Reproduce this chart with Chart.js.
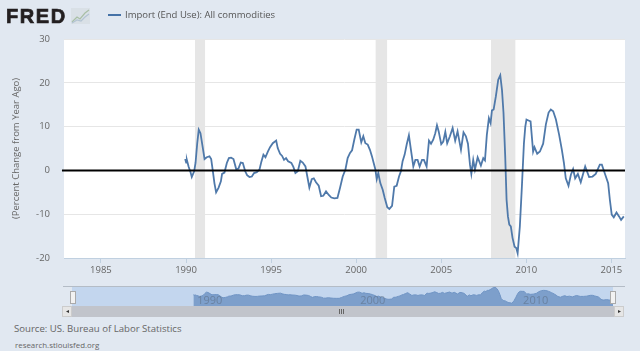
<!DOCTYPE html>
<html>
<head>
<meta charset="utf-8">
<title>Import (End Use): All commodities</title>
<script src="https://cdn.jsdelivr.net/npm/chart.js@4"></script>
<style>
  html, body { margin: 0; padding: 0; }
  body { width: 640px; height: 351px; background: #e1e8f1; position: relative; overflow: hidden; font-family: "Open Sans", sans-serif; color: #555; }
  #main { position: absolute; left: 0; top: 0; }
  #nav { position: absolute; left: 72px; top: 287px; background: #c3d6ee; }
  .abs { position: absolute; white-space: nowrap; }
  #logo { left: 6px; top: 3px; font: 900 20px/26px "Liberation Sans", sans-serif; color: #231f20; letter-spacing: 1.6px; -webkit-text-stroke: 0.7px #231f20; }
  #swatch { left: 108px; top: 14px; width: 13px; height: 2px; background: #4572a7; }
  #legend { left: 125px; top: 7px; font-size: 9.5px; line-height: 16px; color: #555; }
  #source { left: 14px; top: 321px; font-size: 9.6px; line-height: 16px; color: #666; }
  #site { left: 15px; top: 340px; font-size: 7.9px; line-height: 11px; color: #666; }
  #navtop { left: 63px; top: 286px; width: 562px; height: 1px; background: #b4bcc6; }
  #track { left: 72px; top: 306px; width: 542px; height: 11px; background: #c1c4cb; }
  .btn { width: 10px; height: 11px; top: 306px; background: #e6e6e6; border: 1px solid #ccc; box-sizing: border-box; font-size: 6px; line-height: 9px; text-align: center; color: #333; }
  .handle { width: 4px; height: 11px; top: 291px; background: #f2f2f2; border: 1px solid #aaa; }
  #grip { left: 339px; top: 309px; width: 6px; height: 5px; background: repeating-linear-gradient(90deg, #666 0 1px, transparent 1px 2px); }
</style>
</head>
<body>
<canvas id="main" width="640" height="280"></canvas>
<div class="abs" id="logo">FRED</div>
<svg class="abs" style="left:71px;top:8px" width="19" height="16">
  <rect width="19" height="16" fill="#d9e0e6"/>
  <polyline points="1,14 6,9 9,11 14,5 18,2" fill="none" stroke="#a9bfa6" stroke-width="1.2"/>
  <polyline points="1,15 6,12 10,13 14,9 18,6" fill="none" stroke="#b3c4d3" stroke-width="1.2"/>
</svg>
<div class="abs" id="swatch"></div>
<div class="abs" id="legend">Import (End Use): All commodities</div>
<div class="abs" id="navtop"></div>
<canvas id="nav" width="541" height="19"></canvas>
<div class="abs" id="track"></div>
<div class="abs btn" style="left:62px">&#9666;</div>
<div class="abs btn" style="left:614px">&#9656;</div>
<div class="abs handle" style="left:70px"></div>
<div class="abs handle" style="left:610px"></div>
<div class="abs" id="grip"></div>
<div class="abs" id="source">Source: US. Bureau of Labor Statistics</div>
<div class="abs" id="site">research.stlouisfed.org</div>

<script>
// decimal year / percent
var years = [
  1989.95,1990.01,1990.05,1990.15,1990.27,1990.34,1990.48,1990.56,1990.66,1990.75,1990.85,1990.99,
  1991.09,1991.22,1991.38,1991.48,1991.58,1991.67,1991.77,1991.91,1992.05,1992.12,1992.26,1992.40,
  1992.52,1992.65,1992.79,1992.95,1993.08,1993.22,1993.34,1993.48,1993.59,1993.73,1993.87,1994.00,
  1994.16,1994.32,1994.43,1994.55,1994.67,1994.81,1994.94,1995.10,1995.30,1995.39,1995.53,1995.65,
  1995.76,1995.88,1996.00,1996.19,1996.31,1996.43,1996.57,1996.72,1996.86,1997.02,1997.13,1997.25,
  1997.39,1997.51,1997.64,1997.80,1997.94,1998.07,1998.23,1998.39,1998.54,1998.72,1998.90,1999.05,
  1999.21,1999.37,1999.50,1999.64,1999.76,1999.89,2000.03,2000.15,2000.30,2000.42,2000.54,2000.68,
  2000.81,2000.93,2001.03,2001.13,2001.21,2001.30,2001.42,2001.56,2001.68,2001.83,2001.95,2002.11,
  2002.24,2002.38,2002.52,2002.63,2002.73,2002.85,2002.97,2003.10,2003.22,2003.36,2003.48,2003.61,
  2003.73,2003.87,2003.98,2004.14,2004.28,2004.40,2004.53,2004.65,2004.75,2004.85,2005.00,2005.12,
  2005.24,2005.35,2005.51,2005.67,2005.82,2005.96,2006.16,2006.31,2006.45,2006.57,2006.69,2006.77,
  2006.88,2006.98,2007.14,2007.33,2007.47,2007.57,2007.68,2007.80,2007.90,2007.98,2008.08,2008.21,
  2008.35,2008.47,2008.57,2008.66,2008.76,2008.84,2008.92,2009.00,2009.09,2009.19,2009.31,2009.41,
  2009.49,2009.62,2009.74,2009.86,2009.94,2010.01,2010.13,2010.25,2010.40,2010.48,2010.64,2010.80,
  2010.99,2011.15,2011.31,2011.44,2011.58,2011.74,2011.93,2012.09,2012.21,2012.32,2012.48,2012.62,
  2012.75,2012.87,2013.03,2013.20,2013.46,2013.69,2013.89,2014.08,2014.32,2014.44,2014.57,2014.81,
  2014.91,2015.02,2015.14,2015.30,2015.45,2015.57,2015.73
];
var values = [
  2.6,1.8,2.4,0.9,-0.5,-1.5,-0.2,1.7,6.2,9.3,8.5,5.1,
  2.6,3.0,3.2,2.6,-0.2,-2.9,-5.0,-4.0,-2.5,-0.8,-0.5,1.7,
  2.8,2.9,2.6,0.3,0.4,1.8,1.7,-0.2,-1.1,-1.5,-1.4,-0.6,
  -0.4,0.2,2.0,3.6,3.0,4.3,5.3,6.2,6.8,5.1,3.8,3.3,
  2.4,2.8,2.1,1.7,0.8,-0.6,-0.2,2.2,1.8,0.9,-1.4,-3.9,
  -2.0,-1.8,-2.7,-3.5,-5.9,-5.8,-4.8,-5.6,-6.2,-6.4,-6.3,-4.0,
  -1.4,0.2,2.8,4.0,4.6,7.0,9.3,9.3,6.4,7.8,6.2,5.9,
  4.7,3.2,1.7,0.2,-2.0,-0.6,-2.9,-4.4,-6.3,-8.4,-8.8,-8.1,
  -3.7,-3.5,-1.4,-0.2,2.1,3.6,5.9,8.0,4.7,0.9,2.4,2.4,
  0.9,2.4,2.4,0.9,6.8,6.1,7.0,8.5,10.3,8.9,6.0,6.6,
  8.8,6.2,7.8,9.7,6.8,8.9,4.7,8.7,7.8,6.1,1.3,-0.8,
  2.4,0.2,3.0,1.1,2.8,2.3,8.1,11.9,10.8,13.7,13.9,16.9,
  20.7,21.7,18.4,13.1,3.2,-6.7,-10.5,-12.4,-12.8,-15.4,-17.4,-17.7,
  -18.9,-12.8,-3.7,6.2,10.0,11.6,11.4,11.2,4.3,5.3,3.8,4.3,
  6.1,10.5,13.2,13.9,13.5,11.6,8.1,4.7,1.7,-1.8,-3.5,-1.0,
  0.3,-1.8,-0.8,-2.7,0.9,-1.5,-1.4,-0.8,1.3,1.3,-0.2,-2.9,
  -6.7,-10.1,-10.7,-9.6,-10.5,-11.3,-10.5
];
var recessionStart = [1990.52, 2001.13, 2007.92];
var recessionEnd = [1991.13, 2001.83, 2009.37];
var xTicks = [1985, 1990, 1995, 2000, 2005, 2010, 2015];
var yTicks = [-20, -10, 0, 10, 20, 30];
var navLabels = [1990, 2000, 2010];
var xMin = 1982.83, xMax = 2015.8;
var yMin = -20, yMax = 30;

var series = years.map(function (y, i) { return { x: y, y: values[i] }; });

var datasets = [];
for (let i = 0; i < recessionStart.length; i++) {
  datasets.push({
    data: [{ x: recessionStart[i], y: yMax }, { x: recessionEnd[i], y: yMax }],
    borderWidth: 0,
    backgroundColor: '#e6e6e6',
    fill: { value: yMin },
    pointRadius: 0,
    order: 3
  });
}
datasets.push({
  label: 'Import (End Use): All commodities',
  data: series,
  borderColor: '#4f79aa',
  borderWidth: 1.8,
  pointRadius: 0,
  tension: 0,
  fill: false,
  order: 2
});
// heavy line at zero, pokes out a little left of the plot
datasets.push({
  data: [{ x: xMin - 0.12, y: 0 }, { x: xMax, y: 0 }],
  borderColor: '#000',
  borderWidth: 2,
  pointRadius: 0,
  fill: false,
  clip: false,
  order: 1
});

new Chart(document.getElementById('main'), {
  type: 'line',
  data: { datasets: datasets },
  options: {
    responsive: false,
    animation: false,
    layout: { padding: { top: 39, right: 15, left: 0, bottom: 0 } },
    plugins: {
      legend: { display: false },
      tooltip: { enabled: false }
    },
    scales: {
      x: {
        type: 'linear',
        min: xMin,
        max: xMax,
        afterBuildTicks: function (axis) { axis.ticks = xTicks.map(function (v) { return { value: v }; }); },
        afterFit: function (axis) { axis.height = 22; },
        grid: { drawOnChartArea: false, color: '#c0d0e0', tickLength: 5 },
        border: { color: '#c0d0e0' },
        ticks: {
          maxRotation: 0,
          padding: 2,
          color: '#666',
          font: { family: 'Open Sans', size: 9.5 },
          callback: function (v) { return String(v); }
        }
      },
      y: {
        min: yMin,
        max: yMax,
        afterBuildTicks: function (axis) { axis.ticks = yTicks.map(function (v) { return { value: v }; }); },
        afterFit: function (axis) { axis.width = 64; },
        grid: { color: '#e6e6e6', drawTicks: false },
        border: { display: false },
        title: {
          display: true,
          text: '(Percent Change from Year Ago)',
          color: '#666',
          font: { family: 'Open Sans', size: 9.5 },
          padding: { top: 11, bottom: 0 }
        },
        ticks: {
          padding: 14,
          color: '#666',
          font: { family: 'Open Sans', size: 9.5 }
        }
      }
    }
  },
  plugins: [{
    id: 'plotBg',
    beforeDraw: function (chart) {
      var a = chart.chartArea;
      chart.ctx.save();
      chart.ctx.fillStyle = '#fff';
      chart.ctx.fillRect(a.left, a.top, a.right - a.left, a.bottom - a.top);
      chart.ctx.restore();
    }
  }]
});

// navigator strip under the main chart
new Chart(document.getElementById('nav'), {
  type: 'line',
  data: {
    datasets: [{
      data: series,
      borderColor: '#6f94c4',
      borderWidth: 1,
      backgroundColor: '#7d9fcb',
      fill: 'start',
      pointRadius: 0,
      tension: 0
    }]
  },
  options: {
    responsive: false,
    animation: false,
    plugins: { legend: { display: false }, tooltip: { enabled: false } },
    scales: {
      x: { type: 'linear', display: false, min: 1982.5, max: 2015.7 },
      y: { display: false, min: -25.8, max: 22.4 }
    }
  },
  plugins: [{
    id: 'navLabels',
    afterDatasetsDraw: function (chart) {
      var ctx = chart.ctx;
      ctx.save();
      ctx.fillStyle = 'rgba(90,105,125,0.55)';
      ctx.font = '11px "Open Sans"';
      ctx.textBaseline = 'bottom';
      navLabels.forEach(function (v) {
        ctx.fillText(String(v), chart.scales.x.getPixelForValue(v) + 3, 19);
      });
      ctx.restore();
    }
  }]
});
</script>
</body>
</html>
